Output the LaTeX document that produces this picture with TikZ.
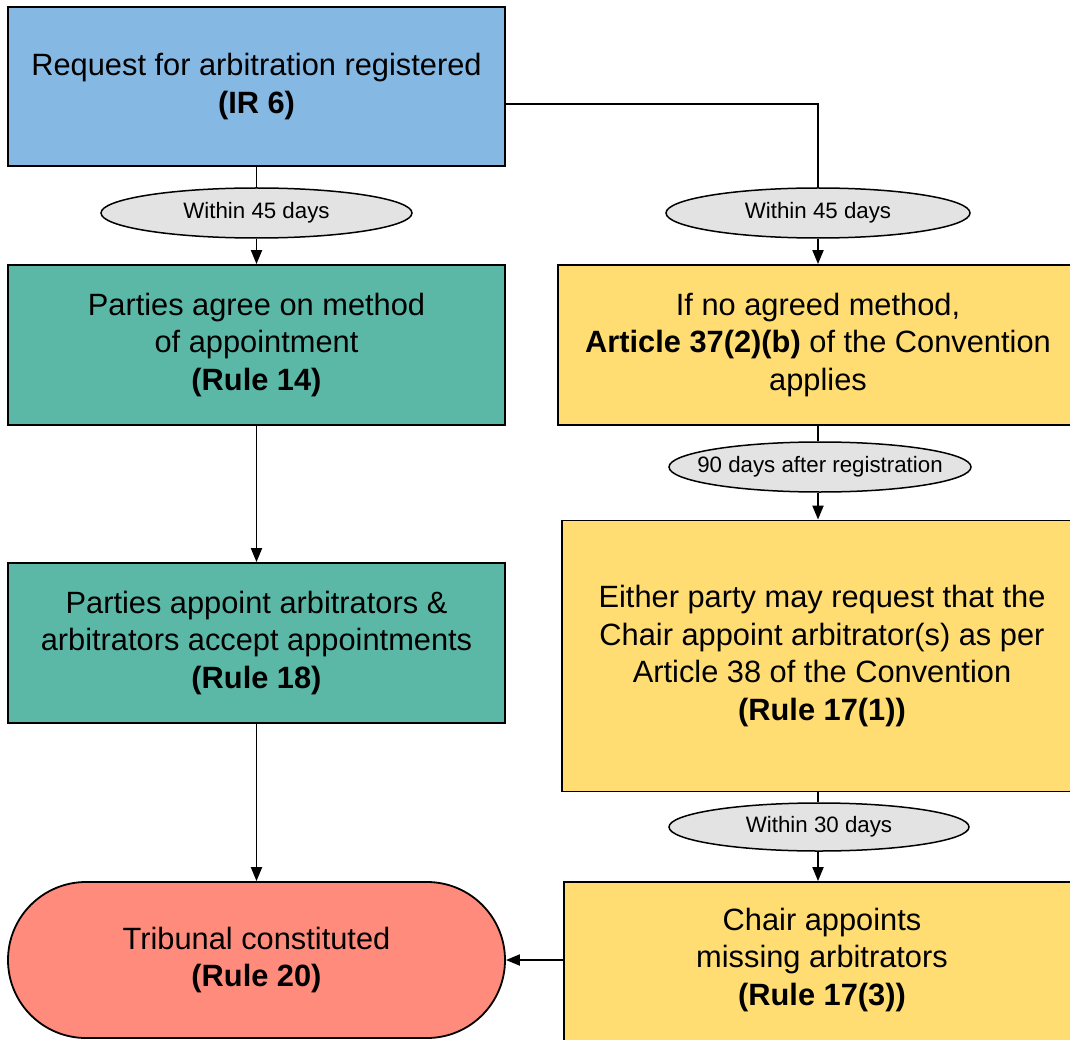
\documentclass[tikz,border=0pt]{standalone}
\usepackage{fontspec}
\setmainfont{Liberation Sans}
\usetikzlibrary{arrows.meta,shapes.geometric,calc}
\definecolor{regblue}{HTML}{85B8E2}
\definecolor{agreegreen}{HTML}{5BB8A7}
\definecolor{chairyellow}{HTML}{FFDD73}
\definecolor{endred}{HTML}{FF8B7C}
\definecolor{tagfill}{HTML}{E3E3E3}
\begin{document}
\begin{tikzpicture}[x=1pt,y=-1pt,
  stagebox/.style={draw=black, line width=1.8pt, align=center, inner sep=0pt,
    font=\fontsize{30.8}{37.5}\selectfont},
  tag/.style={ellipse, draw=black, line width=1.5pt, fill=tagfill, inner xsep=-60pt, inner ysep=0pt,
    font=\fontsize{22.3}{26}\selectfont},
  conn/.style={draw=black, line width=1.9pt},
  arr/.style={conn, -{Triangle[length=14pt,width=11pt]}},
  boxtext/.style={align=center, inner sep=0pt, font=\fontsize{30.8}{37.5}\selectfont}
]
\clip (0,0) rectangle (1070,1040);

% left column
\node[stagebox, fill=regblue, minimum width=497pt, minimum height=159pt] (reg) at (256.5,86.5)
  {Request for arbitration registered\\\textbf{(IR 6)}};
\node[tag, minimum width=311pt, minimum height=50pt] (e45l) at (256.5,213) {Within 45 days};
\node[stagebox, fill=agreegreen, minimum width=497pt, minimum height=160pt] (g1) at (256.5,345)
  {Parties agree on method\\of appointment\\\textbf{(Rule 14)}};
\node[stagebox, fill=agreegreen, minimum width=497pt, minimum height=160pt] (g2) at (256.5,643)
  {Parties appoint arbitrators \&\\arbitrators accept appointments\\\textbf{(Rule 18)}};
\node[stagebox, fill=endred, minimum width=497pt, minimum height=156pt, rounded corners=78pt] (term) at (256.5,960)
  {Tribunal constituted\\\textbf{(Rule 20)}};

% right column
\node[tag, minimum width=304pt, minimum height=50pt] (e45r) at (818,213) {Within 45 days};
\node[stagebox, fill=chairyellow, minimum width=520pt, minimum height=160pt] (y1) at (818,345)
  {If no agreed method,\\\textbf{Article 37(2)(b)} of the Convention\\applies};
\node[tag, minimum width=302pt, minimum height=50pt] (e90) at (820,467) {90 days after registration};
\node[stagebox, fill=chairyellow, minimum width=520pt, minimum height=271pt] (y2) at (822,656)
  {Either party may request that the\\Chair appoint arbitrator(s) as per\\Article 38 of the Convention\\\textbf{(Rule 17(1))}};
\node[tag, minimum width=300pt, minimum height=48pt] (e30) at (819,827) {Within 30 days};
\node[stagebox, fill=chairyellow, minimum width=516pt, minimum height=180pt] (y3) at (822,972) {};
\node[boxtext] (y3txt) at ([yshift=12pt]y3.center)
  {Chair appoints\\missing arbitrators\\\textbf{(Rule 17(3))}};

% connectors
\draw[conn] (reg.south) -- (e45l.north);
\draw[arr] (e45l.south) -- (g1.north);
\draw[arr] (g1.south) -- (g2.north);
\draw[arr] (g2.south) -- (term.north);

\coordinate (bend) at (818,104);
\draw[conn] (reg.east |- bend) -- (bend) -- (bend |- e45r.north);
\draw[arr] (bend |- e45r.south) -- (bend |- y1.north);
\draw[conn] (bend |- y1.south) -- (bend |- e90.north);
\draw[arr] (bend |- e90.south) -- (bend |- y2.north);
\draw[conn] (bend |- y2.south) -- (bend |- e30.north);
\draw[arr] (bend |- e30.south) -- (bend |- y3.north);
\draw[arr] (y3.west |- term.east) -- (term.east);
\end{tikzpicture}
\end{document}
